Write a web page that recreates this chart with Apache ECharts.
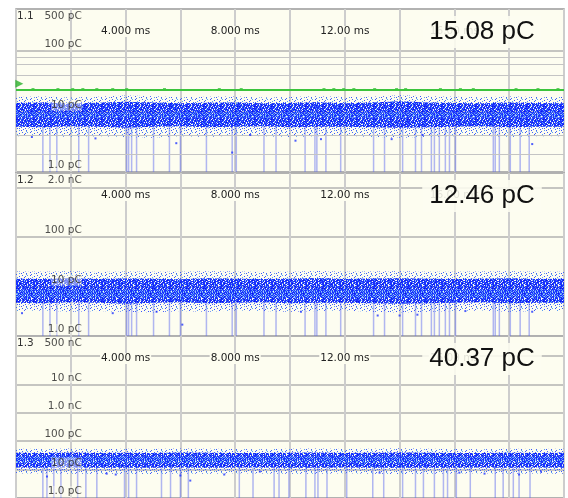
<!DOCTYPE html>
<html><head><meta charset="utf-8">
<script src="https://cdn.jsdelivr.net/npm/echarts@6/dist/echarts.min.js"></script>
<style>html,body{margin:0;padding:0;background:#fff}#c{width:568px;height:498px}</style>
</head><body><div id="c"></div>
<script>
// ---------------- data ----------------
const panelNames = ['1.1', '1.2', '1.3'];
const measurements = ['15.08 pC', '12.46 pC', '40.37 pC'];
const yMin = [1, 1, 1];                 // pC
const yMax = [500, 2000, 500000];       // pC
const topLabels = ['500 pC', '2.0 nC', '500 nC'];
const yLabelValues = [[100, 10, 1], [100, 10, 1], [10000, 1000, 100, 10, 1]];
const yLabelText = {1: '1.0 pC', 10: '10 pC', 100: '100 pC', 1000: '1.0 nC', 10000: '10 nC'};
const timeTickLabels = {4: '4.000 ms', 8: '8.000 ms', 12: '12.00 ms', 16: '16.00 ms'};
const panel1MinorLines = [80, 60, 40, 4, 2];

// bins of the persistence cloud (ms)
const binT = [0,1,2,3,4,5,6,7,8,9,10,11,12,13,14,15,16,17,18,19,20];
// panel 1.1 (pC)
const p1SparseTop = [17.5,17.8,17.2,17.6,18.4,17.9,17.3,17.6,17.8,17.2,17.5,17.9,17.4,17.7,18.6,18.0,17.6,17.3,17.8,17.5,17.4];
const p1DenseTop  = [13.9,14.2,13.6,14.0,14.5,14.1,13.8,14.0,14.2,13.7,13.9,14.3,13.8,14.1,14.8,14.2,13.9,13.7,14.1,13.9,13.8];
const p1CoreTop   = [9.7,9.6,9.8,9.6,9.7,9.5,9.7,9.6,9.8,9.6,9.7,9.6,9.5,9.7,9.8,9.6,9.7,9.6,9.7,9.6,9.7];
const p1CoreBot   = [8.0,8.1,7.9,8.0,8.1,7.9,8.0,8.1,8.0,7.9,8.0,8.1,8.0,7.9,8.1,8.0,8.0,7.9,8.1,8.0,8.0];
const p1DenseBot  = [5.6,5.5,5.7,5.6,5.4,5.6,5.7,5.5,5.6,5.7,5.5,5.6,5.6,5.5,5.4,5.5,5.6,5.7,5.5,5.6,5.6];
const p1SparseBot = [3.9,4.0,3.8,3.9,3.8,3.7,3.9,3.8,4.0,3.9,3.8,3.9,4.0,3.8,3.7,3.8,3.9,4.0,3.8,3.9,3.9];
// panel 1.2
const p2SparseTop = [20.2,20.0,20.5,19.8,20.3,20.1,19.9,20.4,20.2,19.8,20.1,20.6,20.0,20.3,20.5,20.1,19.9,20.2,20.4,20.0,20.1];
const p2DenseTop  = [14.5,14.3,14.8,14.2,14.6,14.4,14.1,14.7,14.5,14.2,14.4,14.9,14.3,14.6,14.8,14.4,14.2,14.5,14.7,14.3,14.4];
const p2CoreTop   = [8.7,8.6,8.8,8.6,8.7,8.5,8.7,8.6,8.8,8.6,8.7,8.6,8.5,8.7,8.8,8.6,8.7,8.6,8.7,8.6,8.7];
const p2CoreBot   = [6.0,6.1,5.9,6.0,6.1,5.9,6.0,6.1,6.0,5.9,6.0,6.1,6.0,5.9,6.1,6.0,6.0,5.9,6.1,6.0,6.0];
const p2DenseBot  = [4.7,4.6,4.8,4.7,4.5,4.7,4.8,4.6,4.7,4.8,4.6,4.7,4.7,4.6,4.5,4.6,4.7,4.8,4.6,4.7,4.7];
const p2SparseBot = [3.2,3.3,3.1,3.2,3.1,3.0,3.2,3.1,3.3,3.2,3.1,3.2,3.3,3.1,3.0,3.1,3.2,3.3,3.1,3.2,3.2];
// panel 1.3
const p3SparseTop = [54,53,55,52,54,53,55,54,53,52,54,55,53,54,56,54,53,52,54,53,54];
const p3DenseTop  = [39,38,40,38,39,38,40,39,38,38,39,40,38,39,40,39,38,38,39,38,39];
const p3CoreTop   = [28.5,28.2,28.8,28.3,28.6,28.4,28.7,28.5,28.3,28.2,28.6,28.8,28.4,28.5,28.9,28.5,28.3,28.2,28.6,28.4,28.5];
const p3CoreBot   = [17.0,17.2,16.9,17.1,17.0,16.8,17.1,17.0,17.2,17.0,16.9,17.1,17.0,16.9,17.1,17.0,17.1,16.9,17.0,17.1,17.0];
const p3DenseBot  = [11.8,11.6,11.9,11.7,11.5,11.7,11.9,11.6,11.8,11.9,11.6,11.7,11.8,11.6,11.5,11.6,11.7,11.9,11.6,11.8,11.7];
const p3SparseBot = [7.3,7.4,7.1,7.2,7.1,7.0,7.3,7.2,7.4,7.3,7.1,7.2,7.4,7.2,7.0,7.1,7.3,7.4,7.2,7.3,7.2];

// spikes (dropouts) time positions, ms
const spikesA = [0.98,1.24,1.49,2.29,2.65,4.04,4.11,4.22,4.40,5.02,5.60,6.00,6.95,7.89,8.04,9.05,9.49,10.55,10.91,10.98,11.31,11.85,13.05,13.45,14.11,14.58,14.80,15.16,15.27,15.45,15.67,15.82,16.04,17.42,17.49,17.64,18.04,18.40,18.73];
const spikesB = [0.98,1.13,1.38,1.64,2.25,2.55,2.95,3.96,4.11,4.40,5.31,5.64,6.00,6.29,8.15,8.65,9.42,9.60,9.96,10.58,10.91,11.02,11.35,12.07,13.02,13.42,14.11,14.58,14.87,15.27,15.60,15.75,16.07,16.58,17.49,17.78,18.15,18.36,18.76];
const spikeTop = [5.8, 4.9, 12];

// isolated outlier dots [ms, pC]
const p1Outliers = [[0.58,3.8],[5.85,3.0],[7.89,2.1],[8.55,4.1],[11.13,3.5],[13.71,3.5],[18.84,2.9],[14.84,4.1],[2.9,3.6],[10.2,3.3]];
const p2Outliers = [[0.22,2.9],[6.07,1.7],[5.13,3.1],[3.53,2.9],[13.2,2.6],[14.0,2.6],[14.65,2.7],[18.84,3.1],[16.4,3.2],[10.4,3.1]];
const p3Outliers = [[1.13,5.7],[3.31,7.2],[3.64,6.7],[6.0,6.2],[6.36,4.1],[7.6,6.7],[13.27,7.8],[16.18,7.8],[17.1,7.2],[18.36,6.7],[19.16,8.5],[8.9,8.5]];

// trigger level (panel 1.1) and its small bumps
const triggerLevel = 22.8;
const triggerMarker = [[0.12, 29]];
const triggerBumps = [0.62,1.53,2.07,2.44,2.95,3.53,4.04,5.42,7.42,8.22,11.24,11.6,11.96,12.33,13.09,13.89,14.22,15.49,16.22,16.69,18.25,19.05,19.78];
const triggerBumpLevel = 23.7;

// ---------------- styles ----------------
const CREAM = '#fdfdf0';
const FONT = 'DejaVu Sans';
const GRID_TOPS = [9, 173, 336];
const GRID_HS = [163, 163, 166];

function makePattern(rows, palette) {
  const h = rows.length, w = Math.max(...rows.map(r => r.length));
  const cv = document.createElement('canvas'); cv.width = w; cv.height = h;
  const ctx = cv.getContext('2d');
  for (let y = 0; y < h; y++) for (let x = 0; x < w; x++) {
    const ch = rows[y][x];
    if (ch && palette[ch]) { ctx.fillStyle = palette[ch]; ctx.fillRect(x, y, 1, 1); }
  }
  return {image: cv, repeat: 'repeat'};
}
const PAL = {B: '#1a30ff', D: '#0c18e0', b: '#4466f4', c: '#5a9ef4', l: '#a0c6f8', s: '#3b55ff'};
const sparsePat = makePattern([
  's......b....c..',
  '....s.....b....',
  '..c......s.....',
  'b.....s......s.',
  '...b.......c...',
  '.s.....l.b.....',
  '......s.......b',
  '..b.s.....s..l.',
  's.......b......',
  '....c.s....b...',
  '.b.........c...'
], PAL);
const densePat = makePattern([
  'BBcB.BDbBBcB.B.BB',
  'B.BBlbBB.BDBcBBbB',
  'BDBc.BB.BbB.BBlBD',
  'bBB.BBcBD.BBBbc.B',
  'BBlBbB.BBBcBB.BDB',
  'B.cBBDBb.B.BlBBcB',
  'BBB.BcBB.BBbB.BBc',
  'cBDB..BlBcBB.BDBB',
  'BB.bBBBcB.BBBBb.B',
  'BlBBc.BB.BDB.cBBB',
  'B.BDBBb.BBcB.BBlB',
  'BcBB.lBBDB.BBc.BB',
  'DBB.BBcB.BlBBB..c'
], PAL);
const corePat = makePattern([
  'cBlB.cBbcBlB.cBBl',
  'BcBl.BcB.BlBcB.cB',
  'lBc.BlBcBB.cBlBBc',
  'BcBBc.lBcBlB.BcBB',
  'c.BlBcB.lBcBBc.lB',
  'BlcB.BcBlB.cBlBcB',
  'cBB.lBcB.cBlBB.Bc'
], PAL);

const bands = [
  [p1SparseTop, p1SparseBot, p1DenseTop, p1DenseBot, p1CoreTop, p1CoreBot],
  [p2SparseTop, p2SparseBot, p2DenseTop, p2DenseBot, p2CoreTop, p2CoreBot],
  [p3SparseTop, p3SparseBot, p3DenseTop, p3DenseBot, p3CoreTop, p3CoreBot]
];
const spikeSets = [spikesA, spikesA, spikesB];
const outlierSets = [p1Outliers, p2Outliers, p3Outliers];

function bandSeries(gi, up, lo, fill, z) {
  return {
    type: 'custom', xAxisIndex: gi, yAxisIndex: gi, z: z, silent: true, clip: true,
    data: binT.map((t, i) => [t, up[i], lo[i]]),
    encode: {x: 0, y: [1, 2]},
    renderItem: function (params, api) {
      if (params.dataIndex !== 0) return null;
      const pts = [];
      for (let i = 0; i < binT.length; i++) pts.push(api.coord([binT[i], up[i]]));
      for (let i = binT.length - 1; i >= 0; i--) pts.push(api.coord([binT[i], lo[i]]));
      return {type: 'polygon', shape: {points: pts}, style: {fill: fill}};
    }
  };
}

const grids = [], xAxes = [], yAxes = [], series = [], graphics = [];
for (let g = 0; g < 3; g++) {
  grids.push({left: 16, width: 550, top: GRID_TOPS[g], height: GRID_HS[g], show: true,
    backgroundColor: CREAM, borderColor: '#9a9a9a', borderWidth: 1.5});
  xAxes.push({type: 'value', gridIndex: g, min: 0, max: 20, interval: 2, position: 'top',
    axisLine: {show: false}, axisTick: {show: false},
    splitLine: {show: true, lineStyle: {color: '#cdcdcd', width: 2}},
    axisLabel: {inside: true, margin: 17, fontFamily: FONT, fontSize: 10.5, color: '#222',
      backgroundColor: CREAM, padding: [0, 1],
      formatter: v => timeTickLabels[Math.round(v)] || ''}});
  yAxes.push({type: 'log', logBase: 10, gridIndex: g, min: yMin[g], max: yMax[g],
    axisLine: {show: false}, axisTick: {show: false}, axisLabel: {show: false},
    splitLine: {show: true, lineStyle: {color: '#b2b2b2', width: 1.5}}});

  // dropout spikes
  const st = spikeTop[g], ymin = yMin[g];
  series.push({type: 'custom', xAxisIndex: g, yAxisIndex: g, z: 2, silent: true, clip: true,
    data: spikeSets[g].map(t => [t, st]),
    renderItem: function (params, api) {
      const a = api.coord([api.value(0), api.value(1)]);
      const b = api.coord([api.value(0), ymin]);
      return {type: 'line', shape: {x1: a[0], y1: a[1], x2: b[0], y2: b[1]},
        style: {stroke: 'rgba(100,112,240,0.5)', lineWidth: 1.5}};
    }});
  // cloud
  const bd = bands[g];
  series.push(bandSeries(g, bd[0], bd[1], sparsePat, 3));
  series.push(bandSeries(g, bd[2], bd[3], densePat, 4));
  series.push(bandSeries(g, bd[4], bd[5], corePat, 5));
  // outliers
  series.push({type: 'scatter', xAxisIndex: g, yAxisIndex: g, z: 5, silent: true,
    symbol: 'rect', symbolSize: 2, itemStyle: {color: '#2236ff'}, data: outlierSets[g]});
  // y labels
  series.push({type: 'scatter', xAxisIndex: g, yAxisIndex: g, z: 8, silent: true, symbolSize: 0,
    data: yLabelValues[g].map(v => [2.4, v]),
    label: {show: true, position: 'top', align: 'right', distance: 1, fontFamily: FONT, fontSize: 10.5,
      color: '#222', backgroundColor: 'rgba(253,253,240,0.55)',
      formatter: p => yLabelText[p.value[1]]}});
  series.push({type: 'scatter', xAxisIndex: g, yAxisIndex: g, z: 8, silent: true, symbolSize: 0,
    data: [[2.4, yMax[g]]],
    label: {show: true, position: 'bottom', align: 'right', distance: 2, fontFamily: FONT, fontSize: 10.5,
      color: '#222', formatter: () => topLabels[g]}});

  graphics.push({type: 'text', left: 17, top: GRID_TOPS[g] + 2, z: 100,
    style: {text: panelNames[g], font: '10.5px "DejaVu Sans"', fill: '#333'}});
  graphics.push({type: 'text', x: 482, y: GRID_TOPS[g] + 23, z: 100,
    style: {text: measurements[g], font: '26px "Liberation Sans"', fill: '#111',
      align: 'center', verticalAlign: 'middle',
      backgroundColor: 'rgba(253,253,240,0.88)', padding: [3, 7]}});
}

// panel 1.1 minor grid lines
series.push({type: 'line', xAxisIndex: 0, yAxisIndex: 0, data: [], z: 1, silent: true,
  markLine: {silent: true, symbol: 'none', label: {show: false},
    lineStyle: {color: '#c4c4c4', width: 1, type: 'solid'},
    data: panel1MinorLines.map(v => ({yAxis: v}))}});
// trigger level
series.push({type: 'line', xAxisIndex: 0, yAxisIndex: 0, z: 6, silent: true, symbol: 'none',
  lineStyle: {color: '#3cc43c', width: 2}, data: [[0, triggerLevel], [20, triggerLevel]]});
series.push({type: 'scatter', xAxisIndex: 0, yAxisIndex: 0, z: 6, silent: true, symbol: 'rect',
  symbolSize: [3, 2], itemStyle: {color: '#3cc43c'}, data: triggerBumps.map(t => [t, triggerBumpLevel])});
series.push({type: 'scatter', xAxisIndex: 0, yAxisIndex: 0, z: 7, silent: true, symbol: 'triangle',
  symbolRotate: -90, symbolSize: 8, itemStyle: {color: '#2ab02a'}, data: triggerMarker});

const chart = echarts.init(document.getElementById('c'), null, {renderer: 'canvas'});
chart.setOption({
  animation: false,
  backgroundColor: '#ffffff',
  grid: grids, xAxis: xAxes, yAxis: yAxes, series: series, graphic: graphics
});
</script></body></html>
